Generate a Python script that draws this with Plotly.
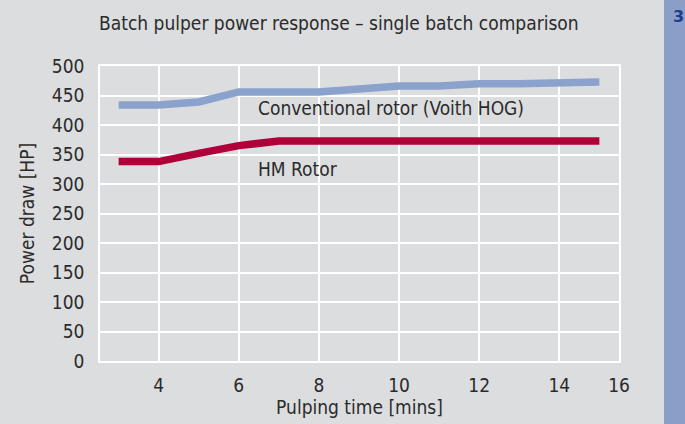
import plotly.graph_objects as go

# Data
time_mins = [3, 4, 5, 6, 7, 8, 9, 10, 11, 12, 13, 14, 15]
conventional_hp = [434, 434, 439, 456, 456, 456, 461, 466, 466, 470, 470, 473, 473]
hm_rotor_hp = [338, 338, 352, 365, 373, 373, 373, 373, 373, 373, 373, 373, 373]
x_tick_labels = ["4", "6", "8", "10", "12", "14", "16"]
y_tick_values = [0, 50, 100, 150, 200, 250, 300, 350, 400, 450, 500]

X_MIN, X_MAX = 2.535, 15.49
x_tick_positions = [4, 6, 8, 10, 12, 14, X_MAX]

FONT = "DejaVu Sans Condensed, Liberation Sans Narrow, Arial Narrow, sans-serif"
FS = 19
TXT = "#2b2b2b"
BG = "#dcdddf"
BLUE = "#8aa2cc"
RED = "#b0003a"

fig = go.Figure()
fig.add_trace(go.Scatter(x=time_mins, y=conventional_hp, mode="lines",
                         line=dict(color=BLUE, width=7.5), showlegend=False,
                         hoverinfo="x+y"))
fig.add_trace(go.Scatter(x=time_mins, y=hm_rotor_hp, mode="lines",
                         line=dict(color=RED, width=7.5), showlegend=False,
                         hoverinfo="x+y"))

fig.update_layout(
    width=685, height=424,
    paper_bgcolor=BG, plot_bgcolor=BG,
    margin=dict(l=100, r=66, t=66, b=57),
    font=dict(family=FONT, size=FS, color=TXT),
    title=dict(text="Batch pulper power response \u2013 single batch comparison",
               x=99 / 685, xanchor="left", y=1 - 23.5 / 424, yanchor="middle",
               font=dict(family=FONT, size=FS, color=TXT)),
    xaxis=dict(range=[X_MIN, X_MAX], tickvals=x_tick_positions, ticktext=x_tick_labels,
               showgrid=True, gridcolor="white", gridwidth=1.6,
               zeroline=False, showline=True, linecolor="white", linewidth=1.6, mirror=True,
               ticks="", ticklabelstandoff=6,
               title=dict(text="Pulping time [mins]", standoff=3,
                          font=dict(family=FONT, size=FS))),
    yaxis=dict(range=[0, 500], tickvals=y_tick_values,
               showgrid=True, gridcolor="white", gridwidth=1.6,
               zeroline=False, showline=True, linecolor="white", linewidth=1.6, mirror=True,
               ticks="", ticklabelstandoff=10,
               title=dict(text="Power draw [HP]", standoff=12,
                          font=dict(family=FONT, size=FS))),
)

fig.add_annotation(x=6.43, y=429, text="Conventional rotor (Voith HOG)", showarrow=False,
                   xanchor="left", yanchor="middle", font=dict(family=FONT, size=FS, color=TXT))
fig.add_annotation(x=6.43, y=326, text="HM Rotor", showarrow=False,
                   xanchor="left", yanchor="middle", font=dict(family=FONT, size=FS, color=TXT))

# side bar
fig.add_shape(type="rect", xref="paper", yref="paper", x0=(664 - 100) / 519, x1=(700 - 100) / 519,
              y0=-0.3, y1=1.4, fillcolor="#8a9fc8", line=dict(width=0), layer="below")
fig.add_annotation(xref="paper", yref="paper", x=(678 - 100) / 519, y=(367 - 16) / 301,
                   text="<b>3</b>", showarrow=False, xanchor="center", yanchor="middle",
                   font=dict(family="DejaVu Sans, Arial", size=16, color="#1e3c8c"))

fig.write_html("out.html", config={"displayModeBar": False},
               post_script="document.body.style.margin='0';document.body.style.overflow='hidden';")
